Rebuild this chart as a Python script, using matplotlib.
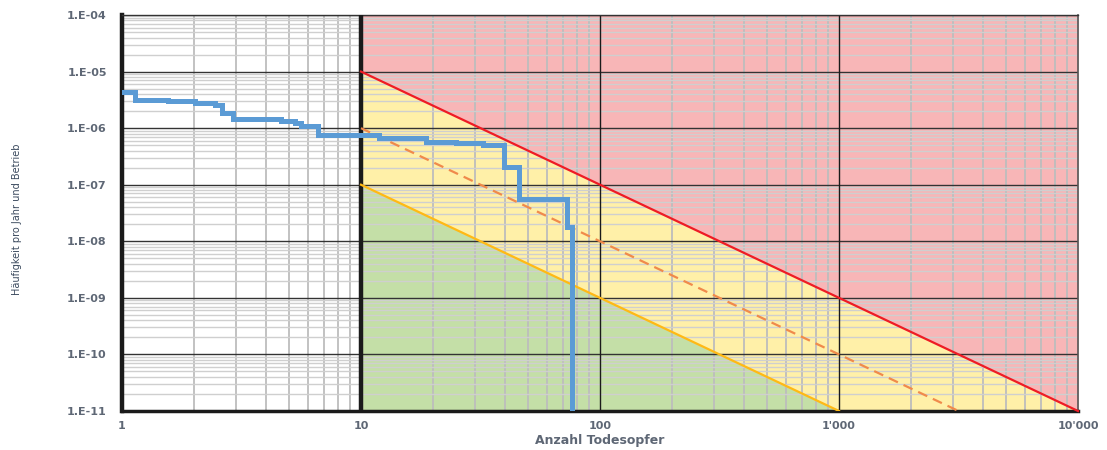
import numpy as np
import matplotlib
matplotlib.use("Agg")
import matplotlib.pyplot as plt
from matplotlib.ticker import FixedLocator, FixedFormatter, LogLocator, NullFormatter

# ---- data ----
step_x = [1.0, 1.13, 1.56, 2.02, 2.45, 2.61, 2.92, 4.64, 5.28, 5.63, 6.6,
          11.9, 18.7, 25.0, 32.3, 39.7, 45.9, 73.0, 76.4]
step_y = [4.4e-6, 3.2e-6, 3.05e-6, 2.8e-6, 2.55e-6, 1.82e-6, 1.44e-6, 1.35e-6,
          1.25e-6, 1.1e-6, 7.5e-7, 6.6e-7, 5.7e-7, 5.4e-7, 5.0e-7, 2.07e-7,
          5.7e-8, 1.8e-8, 1e-12]

# criterion lines (endpoints)
upper_x = [10, 10000]
upper_y = [1e-5, 1e-11]
mid_x = [10, 3162.3]
mid_y = [1e-6, 1e-11]
lower_x = [10, 1000]
lower_y = [1e-7, 1e-11]

x_ticks = [1, 10, 100, 1000, 10000]
x_labels = ["1", "10", "100", "1'000", "10'000"]
y_ticks = [1e-11, 1e-10, 1e-9, 1e-8, 1e-7, 1e-6, 1e-5, 1e-4]
y_labels = ["1.E-11", "1.E-10", "1.E-09", "1.E-08", "1.E-07", "1.E-06", "1.E-05", "1.E-04"]

# ---- figure ----
fig = plt.figure(figsize=(11.07, 4.5), dpi=100)
ax = fig.add_axes([122/1107, 1-411/450, (1078-122)/1107, (411-15)/450])
ax.set_xscale("log")
ax.set_yscale("log")
ax.set_xlim(1, 10000)
ax.set_ylim(1e-11, 1e-4)

pink = "#F8B6B7"
yellow = "#FFF0A8"
green = "#C4DFA7"

# regions
ax.fill_between(upper_x, upper_y, [1e-4, 1e-4], color=pink, lw=0, zorder=0.2)
xs = [10, 1000, 10000]
up_at = [1e-5, 1e-9, 1e-11]
low_at = [1e-7, 1e-11, 1e-13]
ax.fill_between(xs, low_at, up_at, color=yellow, lw=0, zorder=0.2)
ax.fill_between(lower_x, [1e-12, 1e-12], lower_y, color=green, lw=0, zorder=0.2)

# grid
ax.set_axisbelow(True)
ax.xaxis.set_minor_locator(LogLocator(base=10, subs=np.arange(2, 10)))
ax.yaxis.set_minor_locator(LogLocator(base=10, subs=np.arange(2, 10), numticks=20))
ax.xaxis.set_minor_formatter(NullFormatter())
ax.yaxis.set_minor_formatter(NullFormatter())
ax.xaxis.grid(True, which="minor", color="#BDBDBD", lw=1.3)
ax.yaxis.grid(True, which="minor", color="#CFCFCF", lw=1.0)
ax.yaxis.grid(True, which="major", color="#333333", lw=1.0)

# major vertical lines
for xv in x_ticks[2:4]:
    ax.axvline(xv, color="#1a1a1a", lw=1.0, zorder=0.7)
ax.axvline(x_ticks[1], color="#1a1a1a", lw=3.2, zorder=3)

# criterion lines
ax.plot(upper_x, upper_y, color="#EE1C25", lw=1.6, zorder=4, clip_on=False)
ax.plot(mid_x, mid_y, color="#F08A4B", lw=1.6, dashes=(4.5, 2.8), zorder=4)
ax.plot(lower_x, lower_y, color="#FFB915", lw=1.6, zorder=4)

# risk curve
ax.plot(step_x, step_y, drawstyle="steps-post", color="#5B9BD5", lw=3.6,
        zorder=5, solid_joinstyle="miter")

# ticks
ax.xaxis.set_major_locator(FixedLocator(x_ticks))
ax.xaxis.set_major_formatter(FixedFormatter(x_labels))
ax.yaxis.set_major_locator(FixedLocator(y_ticks))
ax.yaxis.set_major_formatter(FixedFormatter(y_labels))
ax.tick_params(which="both", length=0)
ax.tick_params(axis="y", pad=11, labelsize=8, labelcolor="#5E6775")
ax.tick_params(axis="x", pad=7, labelsize=8, labelcolor="#5E6775")
for lab in ax.get_xticklabels() + ax.get_yticklabels():
    lab.set_fontweight("bold")

# spines
ax.spines["left"].set_linewidth(3.2)
ax.spines["left"].set_color("#1a1a1a")
ax.spines["bottom"].set_linewidth(2.5)
ax.spines["bottom"].set_color("#1a1a1a")
ax.spines["top"].set_linewidth(1.0)
ax.spines["top"].set_color("#333333")
ax.spines["right"].set_linewidth(1.2)
ax.spines["right"].set_color("#555555")

ax.set_xlabel("Anzahl Todesopfer", fontsize=9, fontweight="bold", color="#5E6775")
ax.xaxis.set_label_coords(0.5, -0.058)
ax.set_ylabel("Häufigkeit pro Jahr und Betrieb", fontsize=7,
              family=["Liberation Sans Narrow", "DejaVu Sans Condensed", "DejaVu Sans"],
              color="#3B4A5E")
ax.yaxis.set_label_coords(-0.105, 0.485)

fig.savefig("out.png", dpi=100)
